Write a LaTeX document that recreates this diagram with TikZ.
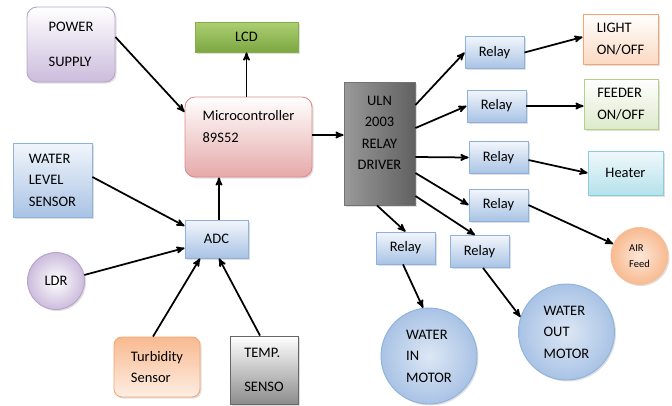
\documentclass[tikz,border=0pt]{standalone}
\usepackage{fontspec}
\setmainfont{Carlito}
\usetikzlibrary{arrows,shadows}
\definecolor{pplborder}{HTML}{B7A3CC}
\definecolor{pplfill}{HTML}{CBBCDC}
\definecolor{grnborder}{HTML}{86AF4C}
\definecolor{grntop}{HTML}{ACCF72}
\definecolor{grnbottom}{HTML}{7DA742}
\definecolor{pinkborder}{HTML}{DD8C8C}
\definecolor{pinkfill}{HTML}{E6A9A9}
\definecolor{bluborder}{HTML}{8DB2DE}
\definecolor{blufill}{HTML}{A9C3E5}
\definecolor{orgborder}{HTML}{F4A570}
\definecolor{orgfill}{HTML}{F8BA90}
\definecolor{cyanborder}{HTML}{8ACEDB}
\definecolor{cyanfill}{HTML}{B5E1EB}
\definecolor{lgrnborder}{HTML}{B4D08B}

\begin{document}
\begin{tikzpicture}[->, >=stealth', x=1pt, y=-1pt, line width=1.75pt,
  font=\fontsize{14.5}{21.5}\selectfont]
\tikzstyle{block}=[draw, line width=0.9pt, align=left, inner sep=0pt,
  drop shadow={opacity=0.25, shadow xshift=1.5pt, shadow yshift=-1.5pt}]
\tikzstyle{bluebox}=[block, draw=bluborder, top color=white!85!blufill, bottom color=blufill]
\tikzstyle{relay}=[bluebox, minimum width=59pt, minimum height=32pt]
\tikzstyle{motor}=[block, circle, draw=bluborder, inner color=white!60!blufill, outer color=blufill, minimum size=96pt]

\useasboundingbox (0,0) rectangle (672,405);

% inputs
\node[block, rounded corners=10pt, draw=pplborder, top color=white, bottom color=pplfill,
  minimum width=88pt, minimum height=75pt] (PS) at (71,44.5) {POWER\\[13.5pt]SUPPLY};
\node[bluebox, minimum width=79pt, minimum height=74pt] (WLS) at (52.5,180) {WATER\\LEVEL\\SENSOR};
\node[block, circle, draw=pplborder, inner color=white, outer color=pplfill,
  minimum size=57pt] (LDR) at (56,281) {LDR};
\node[block, rounded corners=8pt, draw=orgborder, top color=orgfill, bottom color=white!75!orgfill,
  minimum width=86pt, minimum height=60pt] (TS) at (157,367) {Turbidity\\Sensor};
\node[block, draw=black!60, top color=white, bottom color=black!45,
  minimum width=68pt, minimum height=68pt] (TEMP) at (264,370) {TEMP.\\[12pt]SENSO};
\node[bluebox, minimum width=63pt, minimum height=38pt] (ADC) at (216.5,239) {ADC};

% controller
\node[block, rounded corners=10pt, draw=pinkborder, top color=white, bottom color=pinkfill,
  minimum width=127pt, minimum height=80pt] (MC) at (248.5,137) {Microcontroller\\89S52\\~};
\node[block, draw=grnborder, top color=grntop, bottom color=grnbottom,
  minimum width=103pt, minimum height=30pt] (LCD) at (246.5,37) {LCD};
\node[block, align=center, draw=black!55, left color=black!40, middle color=black!22, right color=black!62,
  minimum width=71pt, minimum height=123pt] (ULN) at (379.5,143.5) {ULN\\2003\\RELAY\\DRIVER\\~};

% relays
\node[relay] (R1) at (494.5,52.5) {Relay};
\node[relay] (R2) at (496.5,106) {Relay};
\node[relay] (R3) at (498.5,157.5) {Relay};
\node[relay] (R4) at (498.5,205) {Relay};
\node[relay] (R5) at (405.5,248) {Relay};
\node[relay] (R6) at (479.5,251.5) {Relay};

% outputs
\node[block, draw=orgborder, top color=white, bottom color=white!45!orgfill,
  minimum width=75pt, minimum height=50pt] (LIGHT) at (620.5,39) {LIGHT\\ON/OFF};
\node[block, draw=lgrnborder, top color=white, bottom color=lgrnborder!45,
  minimum width=74pt, minimum height=50pt] (FEEDER) at (621,104) {FEEDER\\ON/OFF};
\node[block, draw=cyanborder, top color=white!80!cyanfill, bottom color=cyanfill,
  minimum width=75pt, minimum height=44pt] (HEAT) at (625.5,173) {Heater};
\node[block, circle, draw=orgborder!70, inner color=white!65!orgfill, outer color=orgfill,
  minimum size=57pt, font=\fontsize{10.5}{15.5}\selectfont] (AIR) at (639.5,256) {AIR\\Feed};
\node[motor] (WIN) at (429,356) {WATER\\IN\\MOTOR};
\node[motor] (WOUT) at (566.5,332) {WATER\\OUT\\MOTOR};

\path
(PS.east |- 0,37) edge (MC.west |- 0,112)
(MC.north -| LCD.south) edge (LCD.south)
(MC.east |- 0,135) edge (ULN.west |- 0,135)
(WLS.east |- 0,177) edge (ADC.west |- 0,226)
(LDR.12) edge (ADC.west |- 0,248)
(TS.north -| 153,0) edge (ADC.south -| 200,0)
(TEMP.north -| 260,0) edge (ADC.south -| 219,0)
(ADC.north -| 219,0) edge (MC.south -| 219,0)
(ULN.east |- 0,105) edge (R1.west)
(ULN.east |- 0,128) edge (R2.west)
(ULN.east |- 0,157) edge (R3.west)
(ULN.east |- 0,173) edge (R4.west)
(ULN.south -| 377,0) edge (R5.north)
(ULN.east |- 0,196) edge (R6.north -| 475,0)
(R1.east) edge (LIGHT.west |- 0,37)
(R2.east) edge (FEEDER.west |- R2.east)
(R3.east |- 0,160) edge (HEAT.west)
(R4.east) edge (AIR)
(R5.south -| 403,0) edge (WIN.97)
(R6.south -| 483,0) edge (WOUT.162);
\end{tikzpicture}
\end{document}
